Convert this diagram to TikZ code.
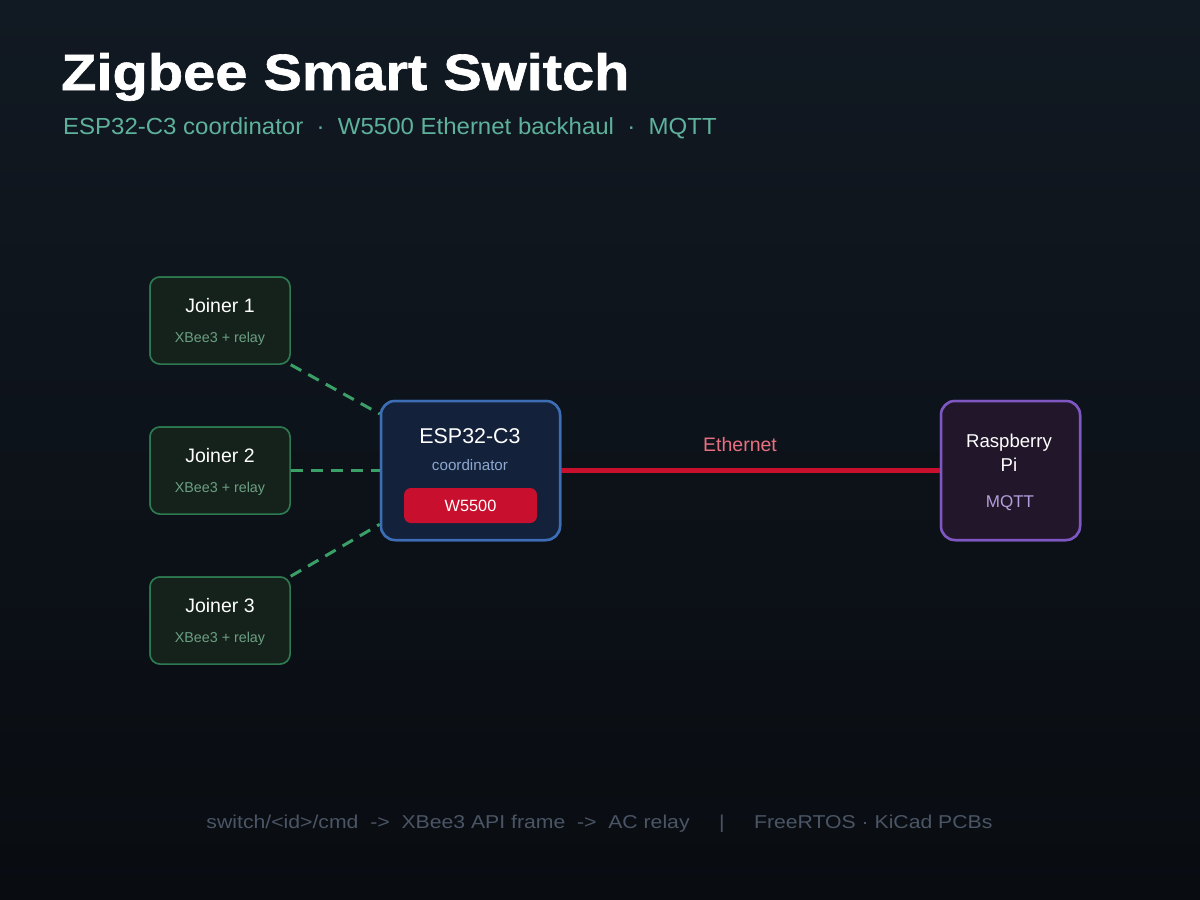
\documentclass[tikz,border=0pt]{standalone}
\usepackage{fontspec}
\setmainfont{Liberation Sans}
\newfontfamily\titlefont{Liberation Sans Bold}[FakeStretch=1.133,FakeBold=1.2]
\newfontfamily\footfont{Liberation Sans}[FakeStretch=1.14]
\newfontfamily\subfont{Liberation Sans}[FakeStretch=1.03]
\usetikzlibrary{calc}
\definecolor{bgtop}{RGB}{17,25,34}
\definecolor{bgbot}{RGB}{9,12,17}
\definecolor{subt}{RGB}{94,178,155}
\definecolor{jfill}{RGB}{21,34,28}
\definecolor{jdraw}{RGB}{46,122,80}
\definecolor{jsub}{RGB}{108,160,130}
\definecolor{efill}{RGB}{19,33,58}
\definecolor{edraw}{RGB}{61,110,181}
\definecolor{esub}{RGB}{140,168,208}
\definecolor{wred}{RGB}{200,16,46}
\definecolor{pfill}{RGB}{34,23,42}
\definecolor{pdraw}{RGB}{126,87,194}
\definecolor{psub}{RGB}{179,157,219}
\definecolor{ethlab}{RGB}{232,112,128}
\definecolor{dashg}{RGB}{58,160,104}
\definecolor{foot}{RGB}{74,86,102}
\tikzset{
  joinerbox/.style={draw=jdraw, fill=jfill, line width=1.5pt, rounded corners=10pt, minimum width=140pt, minimum height=87pt, inner sep=0pt},
  espbox/.style={draw=edraw, fill=efill, line width=2.5pt, rounded corners=14pt, minimum width=179pt, minimum height=139pt, inner sep=0pt},
  pibox/.style={draw=pdraw, fill=pfill, line width=2.5pt, rounded corners=14pt, minimum width=139pt, minimum height=139pt, inner sep=0pt},
  wbox/.style={fill=wred, rounded corners=7pt, minimum width=133pt, minimum height=35pt, inner sep=0pt},
  jtitle/.style={anchor=base, text=white, font=\fontsize{19.5}{22}\selectfont, inner sep=0pt},
  jsubt/.style={anchor=base, text=jsub, font=\fontsize{14.3}{16}\selectfont, inner sep=0pt},
  zlink/.style={draw=dashg, line width=3pt, dash pattern=on 12pt off 8pt},
}
\begin{document}
\begin{tikzpicture}[x=1pt,y=-1pt]
\shade[top color=bgtop, bottom color=bgbot] (0,0) rectangle (1200,900);
\useasboundingbox (0,0) rectangle (1200,900);
\node[anchor=base west, inner sep=0pt, text=white, font=\fontsize{51}{56}\titlefont] (title) at (61,90) {Zigbee Smart Switch};
\node[anchor=base west, inner sep=0pt, text=subt, font=\fontsize{23.3}{26}\subfont] (subtitle) at (63,134.3) {ESP32-C3 coordinator~~·~~W5500 Ethernet backhaul~~·~~MQTT};

\node[joinerbox] (j1) at (220,320.5) {};
\node[joinerbox] (j2) at (220,470.5) {};
\node[joinerbox] (j3) at (220,620.5) {};
\node[espbox] (esp) at (470.5,470.5) {};
\node[pibox] (pi) at (1010.5,470.5) {};
\draw[zlink] (j1.south east) -- ($(esp.north west)!0.1!(esp.south west)$);
\draw[zlink] (j2.east) -- (esp.west);
\draw[zlink] (j3.north east) -- ($(esp.north west)!0.88!(esp.south west)$);
\draw[wred, line width=4.5pt] (esp.east) -- (pi.west);
% boxes again, on top of the connector ends
\node[joinerbox] at (j1) {};
\node[joinerbox] at (j2) {};
\node[joinerbox] at (j3) {};
\node[espbox] at (esp) {};
\node[pibox] at (pi) {};

\node[jtitle] (j1t) at (220,312) {Joiner 1};
\node[jsubt] (j1s) at (220,342) {XBee3 + relay};
\node[jtitle] (j2t) at (220,462) {Joiner 2};
\node[jsubt] (j2s) at (220,492) {XBee3 + relay};
\node[jtitle] (j3t) at (220,612) {Joiner 3};
\node[jsubt] (j3s) at (220,642) {XBee3 + relay};

\node[anchor=base, inner sep=0pt, text=white, font=\fontsize{21.4}{24}\selectfont] (espt) at (470,443.7) {ESP32-C3};
\node[anchor=base, inner sep=0pt, text=esub, font=\fontsize{15.2}{17}\selectfont] (esps) at (470,470) {coordinator};
\node[wbox] (w) at (470.5,505.5) {};
\node[anchor=base, inner sep=0pt, text=white, font=\fontsize{16.3}{18}\selectfont] (wt) at (470.5,511.7) {W5500};

\node[anchor=base, inner sep=0pt, text=white, font=\fontsize{18.6}{21}\selectfont] (pit1) at (1009,447.3) {Raspberry};
\node[anchor=base, inner sep=0pt, text=white, font=\fontsize{18.6}{21}\selectfont] (pit2) at (1009,471) {Pi};
\node[anchor=base, inner sep=0pt, text=psub, font=\fontsize{17}{19}\selectfont] (pis) at (1010,507.3) {MQTT};

\node[anchor=base, inner sep=0pt, text=ethlab, font=\fontsize{19.5}{22}\selectfont] (eth) at (740,451) {Ethernet};

\node[anchor=base, inner sep=0pt, text=foot, font=\fontsize{18.6}{21}\footfont] (footer) at (599.5,828.3) {switch/<id>/cmd~~->~~XBee3 API frame~~->~~AC relay~~~~~|~~~~~FreeRTOS · KiCad PCBs};
\end{tikzpicture}
\end{document}
